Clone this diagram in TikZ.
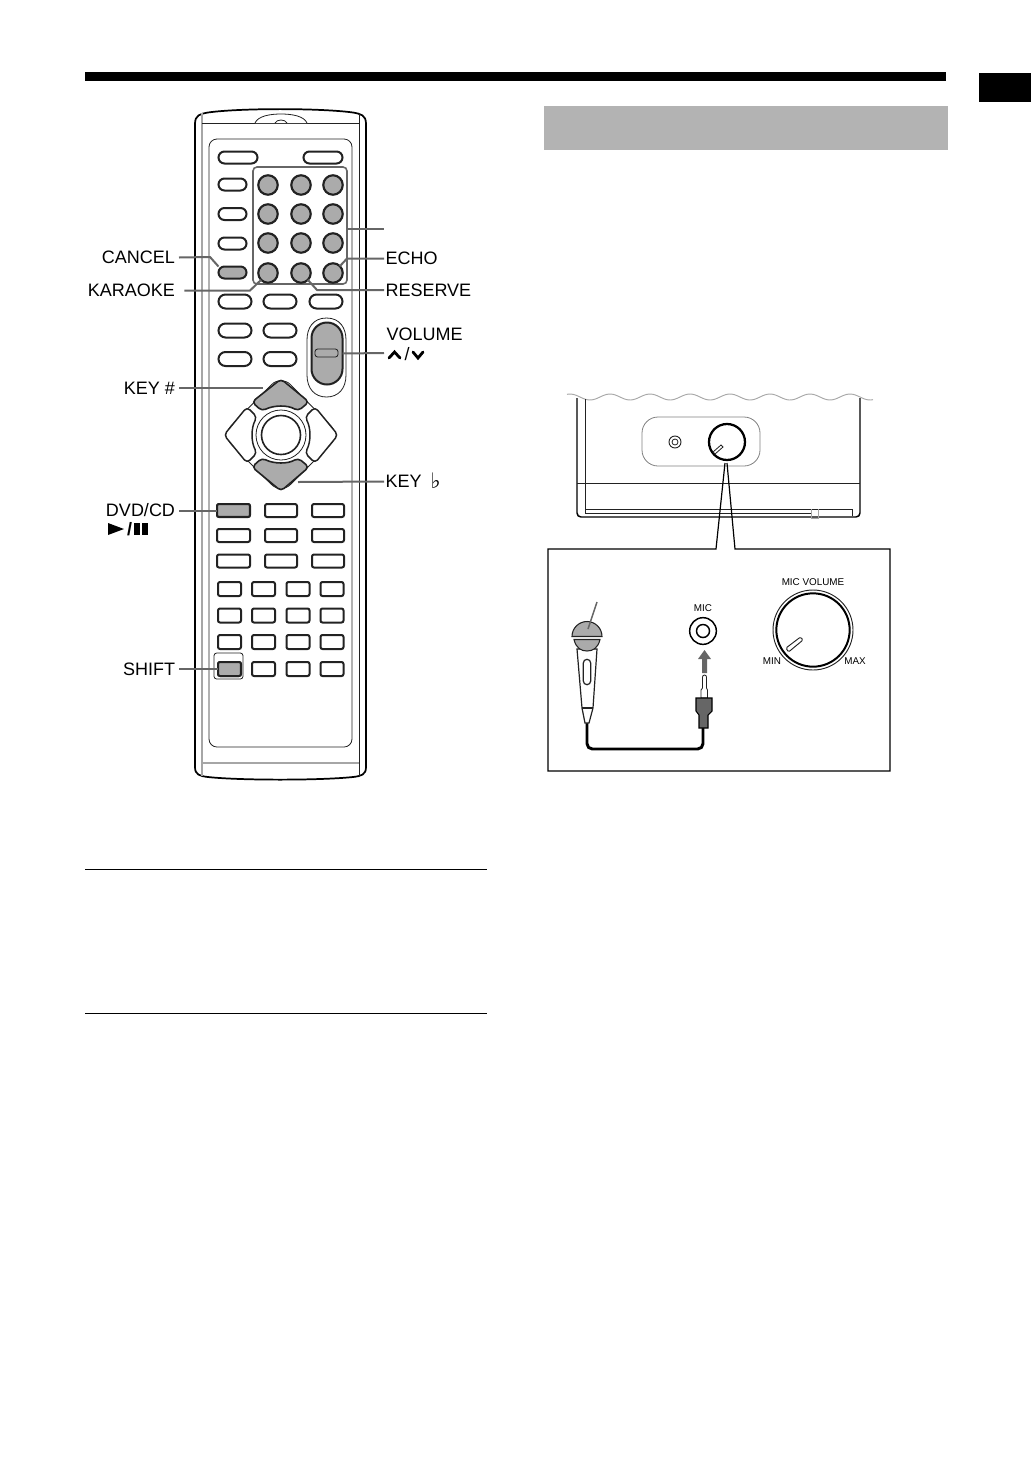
\documentclass[tikz,border=0pt]{standalone}
\usepackage{fontspec}
\setmainfont{Liberation Sans}
\newfontfamily\dejavu{DejaVu Sans}
\definecolor{keygray}{HTML}{ABABAB}
\definecolor{leadgray}{HTML}{666666}
\definecolor{inkdark}{HTML}{222222}
\definecolor{bandgray}{HTML}{B3B3B3}
\newcommand{\pxbtn}[7][]{% style, name, cx, cy, w, h, radius
  \node[btnbase,#1,minimum width={(#5)*0.75pt},minimum height={(#6)*0.75pt},rounded corners={(#7)*0.75pt}] (#2) at (#3,#4) {};}
\tikzset{
  x=0.75pt,y=-0.75pt,
  btnbase/.style={draw=inkdark,line width=1.5pt,fill=white,rectangle,inner sep=0pt,outer sep=0pt},
  graykey/.style={fill=keygray},
  roundkey/.style={circle,draw=inkdark,line width=1.6pt,fill=keygray,inner sep=0pt,outer sep=0pt,minimum size=14.6pt},
  leader/.style={draw=leadgray,line width=1.5pt},
  lab/.style={font=\fontsize{13.5}{15}\selectfont,inner sep=0pt,outer sep=0pt,text=black},
  tiny/.style={font=\fontsize{7.4}{9}\selectfont,inner sep=0pt,outer sep=0pt,text=black},
  thin line/.style={draw=inkdark,line width=0.6pt},
  body line/.style={draw=black,line width=1.3pt},
  soft line/.style={draw=gray!70,line width=0.6pt},
}
\begin{document}
\begin{tikzpicture}
\useasboundingbox (0,0) rectangle (1031,1457);
% page furniture
\fill[black] (85,72) rectangle (946,81);
\fill[black] (979,73) rectangle (1031,102);
\fill[bandgray] (544,106) rectangle (948,150);
\draw[black,line width=0.6pt] (85,869) -- (487,869);
\draw[black,line width=0.6pt] (85,1013) -- (487,1013);

% remote body
\draw[body line,line join=round] (195,135) -- (195,767) .. controls (195,775) and (200,776) .. (208,777)
  .. controls (240,780.5) and (320,780.5) .. (353,777) .. controls (361,776) and (366,775) .. (366,767)
  -- (366,124) .. controls (366,115) and (361,114) .. (353,112.5)
  .. controls (320,108) and (240,108) .. (208,112.5) .. controls (200,114) and (195,115) .. (195,124) -- cycle;
\draw[soft line,line width=0.9pt] (202,113) -- (202,776);
\draw[thin line] (359,113) -- (359,776);
\draw[thin line] (202,123) -- (359,123);
\draw[soft line,line width=0.8pt] (202,763) -- (359,763);
\draw[thin line,fill=white] (255,123) .. controls (258,116) and (270,114) .. (281,114) .. controls (292,114) and (304,116) .. (307,123);
\draw[thin line] (275,123) .. controls (277,119) and (285,119) .. (287,123);
\draw[thin line,rounded corners=6pt] (209,139) rectangle (352,747);

% number-key group
\draw[draw=leadgray,line width=1.2pt,rounded corners=3pt] (253,167) rectangle (347,284);

% oval keys
\pxbtn{topA}{238}{157.5}{39}{12}{6}
\pxbtn{topB}{323}{157.5}{39}{12}{6}
\pxbtn{ovA}{232.5}{184.5}{28}{12}{6}
\pxbtn{ovB}{232.5}{214}{28}{12}{6}
\pxbtn{ovC}{232.5}{243.5}{28}{12}{6}
\pxbtn[graykey]{btnCancel}{232.5}{272.5}{28}{12}{6}
\pxbtn{ovD}{235}{301.5}{33}{14}{7}
\pxbtn{ovE}{280}{301.5}{33}{14}{7}
\pxbtn{ovF}{326}{301.5}{33}{14}{7}
\pxbtn{ovG}{235}{330.5}{33}{14}{7}
\pxbtn{ovH}{280}{330.5}{33}{14}{7}
\pxbtn{ovI}{235}{359}{33}{14}{7}
\pxbtn{ovJ}{280}{359}{33}{14}{7}

% number keys
\foreach \cx/\nm in {268/a,301/b,333/c}{
  \foreach \cy/\rw in {185/p,214/q,243/r,273/s}{
    \node[roundkey] (num\nm\rw) at (\cx,\cy) {};
  }
}

% volume rocker
\draw[thin line,fill=white] (326.5,318) .. controls (340,318) and (346,328) .. (346,340) -- (346,375) .. controls (346,389) and (338,397) .. (326.5,397)
  .. controls (315,397) and (307,389) .. (307,375) -- (307,340) .. controls (307,328) and (313,318) .. (326.5,318) -- cycle;
\pxbtn[graykey]{btnVol}{327}{353.5}{31}{62}{15.5}
\draw[draw=inkdark,line width=0.6pt,rounded corners=2pt] (315,349) rectangle (338,357);

% direction pad
\draw[thin line,rounded corners=10pt,fill=white] (281,375) -- (340,435) -- (281,494) -- (222,435) -- cycle;
\draw[thin line] (281,435) circle (25);
\draw[draw=inkdark,line width=1.2pt] (281,435) circle (19.5);
\node[circle,inner sep=0pt,outer sep=0pt,minimum size=27pt] (padC) at (281,435) {};
\draw[draw=inkdark,line width=1.2pt,fill=keygray,rounded corners=3pt] (252,402) -- (281,379) -- (309,402) -- (298,411) .. controls (288,405) and (274,405) .. (262,411) -- cycle;
\draw[draw=inkdark,line width=1.2pt,fill=keygray,rounded corners=3pt] (252,467) -- (281,491) -- (309,467) -- (298,458) .. controls (288,464) and (274,464) .. (262,458) -- cycle;
\draw[draw=inkdark,line width=1.1pt,fill=white,rounded corners=3pt] (224,435) -- (247,407) -- (257,417) .. controls (251,428) and (251,442) .. (257,453) -- (247,463) -- cycle;
\draw[draw=inkdark,line width=1.1pt,fill=white,rounded corners=3pt] (338,435) -- (315,407) -- (305,417) .. controls (311,428) and (311,442) .. (305,453) -- (315,463) -- cycle;
\coordinate (padUp) at (263,388);
\coordinate (padDown) at (298,482);

% rectangular keys
\foreach \cy/\rw in {510.5/r,535.5/s,561/t}{
  \foreach \cx/\wdt/\nm in {233.5/33/a,281/32/b,328/32/c}{
    \pxbtn{rk\nm\rw}{\cx}{\cy}{\wdt}{13}{2}
  }
}
\node[btnbase,graykey,rounded corners=1.5pt,minimum width=24.7pt,minimum height=9.7pt] (btnDvd) at (233.5,510.5) {};
\foreach \cy/\rw in {589/p,615.5/q,642/r,669/s}{
  \foreach \cx/\nm in {229.5/a,263.5/b,298/c,332/d}{
    \pxbtn{sk\nm\rw}{\cx}{\cy}{23}{14}{2}
  }
}
\draw[thin line,rounded corners=2pt] (214,653) rectangle (243,679);
\node[btnbase,graykey,rounded corners=1.5pt,minimum width=17.2pt,minimum height=10.5pt] (btnShift) at (229.5,669) {};

% labels
\node[lab,anchor=east] (lCancel) at (175,257.5) {CANCEL};
\node[lab,anchor=east] (lKaraoke) at (175,290.5) {KARAOKE};
\node[lab,anchor=east] (lKeyS) at (175,388) {KEY \#};
\node[lab,anchor=east] (lDvd) at (175,510.5) {DVD/CD};
\node[lab,anchor=east] (lShift) at (175,669) {SHIFT};
\node[lab,anchor=west] (lEcho) at (385.5,258.5) {ECHO};
\node[lab,anchor=west] (lReserve) at (385.5,290) {RESERVE};
\node[lab,anchor=west] (lVol) at (386.5,334.5) {VOLUME};
\node[lab,anchor=west] (lKeyW) at (385.5,481.5) {KEY};
\node[lab,anchor=west,font=\dejavu\fontsize{16}{16}\selectfont] (lFlat) at (430.5,481) {♭};
\coordinate (lGroup) at (384,229);

% play/pause and arrow marks
\fill[black] (108,523) -- (124,529) -- (108,535) -- cycle;
\node[lab,font=\fontsize{13.5}{15}\selectfont\bfseries] (slashA) at (129.5,529) {/};
\fill[black] (134,523) rectangle (140,535);
\fill[black] (142,523) rectangle (148,535);
\draw[black,line width=2.1pt,line cap=round] (389,358) -- (394.5,352) -- (400,358);
\node[lab] (slashB) at (407,354.5) {/};
\draw[black,line width=2.1pt,line cap=round] (413,352) -- (418,358) -- (423,352);

% leaders
\draw[leader] ([xshift=3pt]lCancel.east) -- (210,257) -- (btnCancel.north west);
\draw[leader] ([xshift=7pt]lKaraoke.east) -- (250,290.5) -- (numas.south west);
\draw[leader] ([xshift=3pt]lKeyS.east) -- (padUp);
\draw[leader] ([xshift=3pt]lDvd.east) -- (btnDvd.west);
\draw[leader] ([xshift=3pt]lShift.east) -- (btnShift.west);
\draw[leader] ([xshift=-1pt]lEcho.west) -- (347,258.5) -- (numcs.north east);
\draw[leader] ([xshift=-1pt]lReserve.west) -- (317,290) -- (numbs.south east);
\draw[leader] (btnVol.east) -- (384,353);
\draw[leader] ([xshift=-1pt]lKeyW.west) -- (padDown);
\draw[leader] (347,229) -- (lGroup);

% unit drawing
\draw[soft line,line width=0.7pt] plot[domain=567:873,samples=140,smooth] (\x,{397-3*cos(9*(\x-610))});
\draw[draw=black,line width=1.1pt,rounded corners=3pt] (577,398) -- (577,517) -- (860,517) -- (860,398);
\draw[thin line] (585,399) -- (585,513);
\draw[thin line] (577,483) -- (860,483);
\draw[thin line] (585,509) -- (852,509) -- (852,516);
\draw[thin line] (585,513) -- (811,513);
\draw[soft line] (811,509) -- (811,518) -- (818,518) -- (818,509);
\draw[soft line,draw=gray,rounded corners=12pt] (642,417) rectangle (760,466);
\node[circle,draw=inkdark,line width=0.7pt,inner sep=0pt,minimum size=9pt] (jack) at (675,442) {};
\draw[thin line] (675,442) circle (3);
\node[circle,draw=black,line width=1.7pt,fill=white,inner sep=0pt,outer sep=0pt,minimum size=27pt] (knob) at (727,442) {};
\draw[thin line] (713,452) -- (721,445) -- (723,447) -- (715,454) -- cycle;

% callout
\coordinate (calloutA) at (725,463);
\coordinate (calloutB) at (727,463);
\coordinate (boxA) at (716,549);
\coordinate (boxB) at (735,549);
\draw[draw=black,line width=0.9pt] (calloutA) -- (boxA) -- (548,549) -- (548,771) -- (890,771) -- (890,549) -- (boxB) -- (calloutB);

% microphone
\draw[draw=black,line width=2.2pt,line join=round,rounded corners=4pt] (587,722) -- (587,749) -- (703,749) -- (703,727);
\draw[draw=inkdark,line width=0.9pt,fill=white] (577,649) -- (582,708) -- (585,723) -- (589,723) -- (593,708) -- (597,649) -- cycle;
\draw[thin line,line width=0.8pt] (582,708) -- (593,708);
\node[draw=inkdark,line width=0.9pt,rounded corners=2.7pt,inner sep=0pt,minimum width=5.5pt,minimum height=19pt] (grip) at (587,672) {};
\draw[draw=inkdark,line width=0.8pt,fill=keygray] (572,636.5) arc[start angle=180,end angle=360,radius=15] -- cycle;
\draw[draw=inkdark,line width=0.8pt,fill=keygray] (574,639.5) .. controls (576,648) and (581,651) .. (587,651) .. controls (593,651) and (598,648) .. (600,639.5) -- cycle;
\draw[draw=leadgray,line width=1.1pt] (597,602) -- (588,629);

% plug and arrow
\node[tiny] (lMic) at (703,608) {MIC};
\node[circle,draw=black,line width=1.1pt,inner sep=0pt,outer sep=0pt,minimum size=20pt] (socket) at (703,631) {};
\draw[draw=black,line width=1.1pt] (703,631) circle (6.5);
\fill[leadgray] (702,673) -- (702,659) -- (698,659) -- (704.5,650) -- (711,659) -- (707,659) -- (707,673) -- cycle;
\draw[thin line,fill=white] (702.5,688) -- (702.5,677) arc[start angle=180,end angle=360,radius=2] -- (706.5,688) -- (707.5,690) -- (707.5,698) -- (701,698) -- (701,690) -- cycle;
\draw[draw=black,line width=0.8pt,fill=leadgray] (696,698) -- (712,698) -- (712,711) -- (708,715) -- (708,728) -- (699,728) -- (699,715) -- (696,711) -- cycle;

% dial
\node[tiny,anchor=center] (lMicVol) at (813,582) {MIC VOLUME};
\node[circle,draw=black,line width=1.5pt,inner sep=0pt,outer sep=0pt,minimum size=55pt] (dial) at (813,630) {};
\draw[thin line,line width=0.7pt] (813,630) circle (40);
\draw[draw=inkdark,line width=0.7pt,fill=white,rounded corners=1pt] (786,648) -- (800.5,637) -- (803,640) -- (788.5,652) -- cycle;
\node[tiny] (lMin) at (772,661) {MIN};
\node[tiny] (lMax) at (855,661) {MAX};
\end{tikzpicture}
\end{document}
